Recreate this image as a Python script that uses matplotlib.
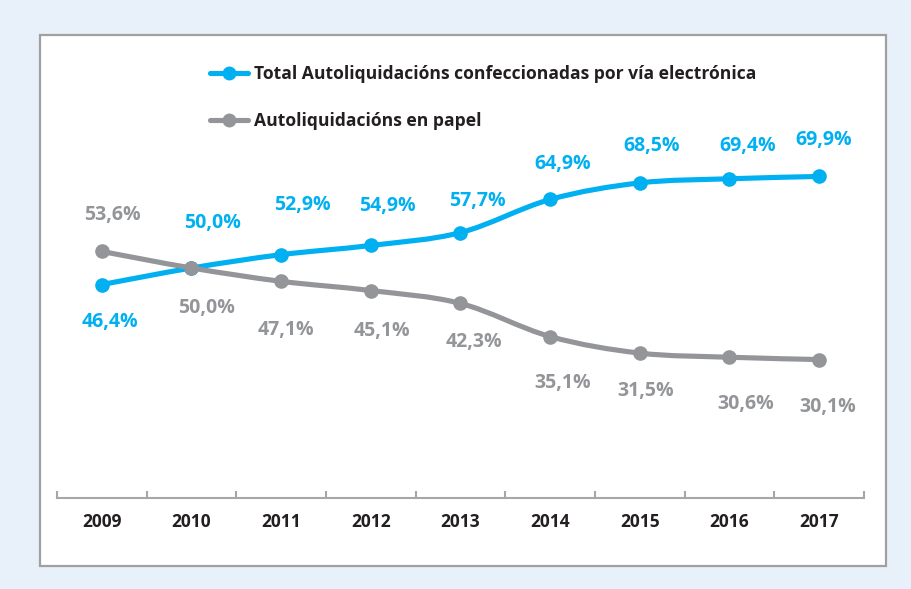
import matplotlib.pyplot as plt
from matplotlib.path import Path
from matplotlib.patches import PathPatch, Rectangle
from matplotlib.lines import Line2D

# datos
years = ["2009", "2010", "2011", "2012", "2013", "2014", "2015", "2016", "2017"]
electronica = [46.4, 50.0, 52.9, 54.9, 57.7, 64.9, 68.5, 69.4, 69.9]
papel = [53.6, 50.0, 47.1, 45.1, 42.3, 35.1, 31.5, 30.6, 30.1]
lbl_electronica = "Total Autoliquidacións confeccionadas por vía electrónica"
lbl_papel = "Autoliquidacións en papel"

# desplazamiento de las etiquetas (pixels)
off_elec = [(8, -37), (21, 45), (21, 50), (17, 39), (17, 32), (13, 35), (12, 37), (18, 33), (5, 36)]
off_pap = [(11, 36), (15, -40), (5, -49), (11, -40), (13, -39), (12, -46), (6, -38), (16, -47), (9, -47)]

azul = "#00B0F0"
gris = "#939598"
gris_txt = "#939598"
W, H = 912, 589

plt.rcParams['font.family'] = ['Open Sans', 'DejaVu Sans']

fig = plt.figure(figsize=(W / 100, H / 100), dpi=100)
fig.patch.set_facecolor("#E8F0FA")
fig.add_artist(Rectangle((40 / W, 1 - 566 / H), 846 / W, 531 / H, transform=fig.transFigure,
                         facecolor="white", edgecolor="#A0A0A0", lw=1.6, zorder=-1))

ax = fig.add_axes([57 / W, 1 - 498 / H, 807 / W, 368 / H])
ax.set_facecolor("none")
x = list(range(len(years)))


def suave(xs, ys):
    # curva suavizada tipo Excel (bezier)
    verts = [(xs[0], ys[0])]
    codes = [Path.MOVETO]
    n = len(xs)
    for i in range(n - 1):
        p0 = (xs[max(i - 1, 0)], ys[max(i - 1, 0)])
        p1 = (xs[i], ys[i])
        p2 = (xs[i + 1], ys[i + 1])
        p3 = (xs[min(i + 2, n - 1)], ys[min(i + 2, n - 1)])
        c1 = (p1[0] + (p2[0] - p0[0]) / 6, p1[1] + (p2[1] - p0[1]) / 6)
        c2 = (p2[0] - (p3[0] - p1[0]) / 6, p2[1] - (p3[1] - p1[1]) / 6)
        verts += [c1, c2, p2]
        codes += [Path.CURVE4] * 3
    return Path(verts, codes)


z = 2
for serie, col in [(electronica, azul), (papel, gris)]:
    ax.add_patch(PathPatch(suave(x, serie), facecolor="none", edgecolor=col, lw=3.7,
                           capstyle="round", joinstyle="round", zorder=z))
    ax.plot(x, serie, "o", color=col, markersize=9.5, zorder=z + 0.5)
    z += 1

for i, v in enumerate(electronica):
    ax.annotate(f"{v:.1f}%".replace(".", ","), (x[i], v), xytext=off_elec[i],
                textcoords="offset pixels", ha="center", va="center",
                color=azul, fontsize=14, fontweight="bold")
for i, v in enumerate(papel):
    ax.annotate(f"{v:.1f}%".replace(".", ","), (x[i], v), xytext=off_pap[i],
                textcoords="offset pixels", ha="center", va="center",
                color=gris_txt, fontsize=14, fontweight="bold")

ax.set_xlim(-0.5, len(years) - 0.5)
ax.set_ylim(0, 80)
ax.set_yticks([])
ax.set_xticks(x)
ax.set_xticklabels(years, fontsize=12.5, fontweight="bold", color="#231F20")
ax.tick_params(axis="x", which="major", length=0, pad=11)
ax.set_xticks([i - 0.5 for i in range(len(years) + 1)], minor=True)
ax.tick_params(axis="x", which="minor", direction="in", length=5, width=1.5, color="#A6A6A6")
for s in ["top", "right", "left"]:
    ax.spines[s].set_visible(False)
ax.spines["bottom"].set_color("#A6A6A6")
ax.spines["bottom"].set_linewidth(1.5)

handles = [Line2D([], [], color=azul, lw=3.7, marker="o", markersize=9, solid_capstyle="round"),
           Line2D([], [], color=gris, lw=3.7, marker="o", markersize=9, solid_capstyle="round")]
fig.legend(handles, [lbl_electronica, lbl_papel], loc="upper left",
           bbox_to_anchor=(210 / W, 1 - 65 / H), frameon=False, borderpad=0, borderaxespad=0,
           handlelength=2.2, handletextpad=0.3, labelspacing=1.65,
           prop={"weight": "bold", "size": 12.6}, labelcolor="#231F20")

fig.savefig("out.png", dpi=100, facecolor=fig.get_facecolor())
